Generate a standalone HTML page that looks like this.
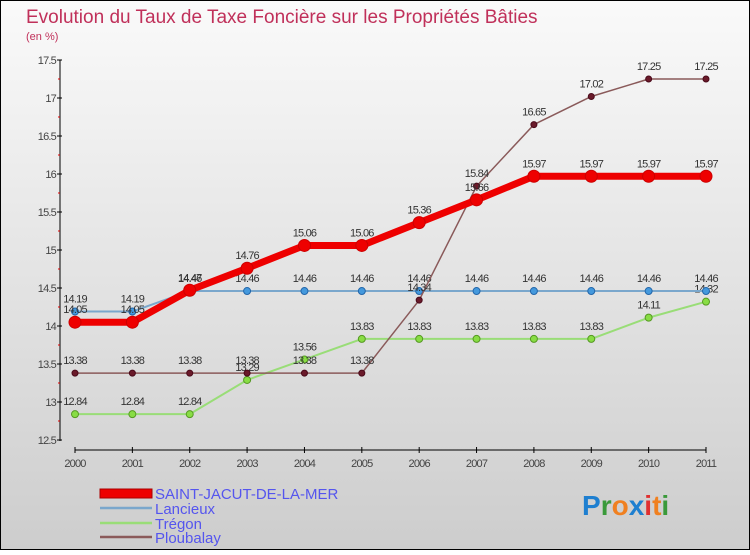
<!DOCTYPE html>
<html><head><meta charset="utf-8"><style>
body{margin:0}
#c{width:750px;height:550px;position:relative;font-family:"Liberation Sans",sans-serif}
</style></head><body>
<div id="c">
<svg id="s" width="750" height="550" xmlns="http://www.w3.org/2000/svg">
<defs><linearGradient id="bg" x1="0" y1="0" x2="0" y2="1"><stop offset="0" stop-color="#fafafa"/><stop offset="1" stop-color="#cdcdcd"/></linearGradient></defs>
<rect x="0.5" y="0.5" width="749" height="549" fill="url(#bg)" stroke="#000"/>
<text x="26" y="23" font-size="19" fill="#c0305a">Evolution du Taux de Taxe Foncière sur les Propriétés Bâties</text>
<text x="26" y="40" font-size="11" fill="#c0305a">(en %)</text>
<g id="axes"></g><g id="series"></g>
<g>
<rect x="100" y="489" width="52" height="9" fill="#e00" stroke="#a00"/>
<text x="155" y="499" font-size="15" fill="#5555ee">SAINT-JACUT-DE-LA-MER</text>
<line x1="100" y1="508" x2="152" y2="508" stroke="#7aa7cc" stroke-width="2.5"/>
<text x="155" y="514" font-size="15" fill="#5555ee">Lancieux</text>
<line x1="100" y1="523" x2="152" y2="523" stroke="#99dd77" stroke-width="2.5"/>
<text x="155" y="529" font-size="15" fill="#5555ee">Trégon</text>
<line x1="100" y1="537" x2="152" y2="537" stroke="#8a5a5a" stroke-width="2.5"/>
<text x="155" y="543" font-size="15" fill="#5555ee">Ploubalay</text>
</g>
<text x="582" y="515" font-size="28" font-weight="bold"><tspan fill="#1e7fd0">P</tspan><tspan fill="#3a9a3a">r</tspan><tspan fill="#f08020">o</tspan><tspan fill="#1e7fd0">x</tspan><tspan fill="#e03030">i</tspan><tspan fill="#f08020">t</tspan><tspan fill="#3a9a3a">i</tspan></text>
</svg></div>
<script>
const years=["2000","2001","2002","2003","2004","2005","2006","2007","2008","2009","2010","2011"];
const yTicks=[12.5,13,13.5,14,14.5,15,15.5,16,16.5,17,17.5];
const saint=[14.05,14.05,14.47,14.76,15.06,15.06,15.36,15.66,15.97,15.97,15.97,15.97];
const lancieux=[14.19,14.19,14.46,14.46,14.46,14.46,14.46,14.46,14.46,14.46,14.46,14.46];
const tregon=[12.84,12.84,12.84,13.29,13.56,13.83,13.83,13.83,13.83,13.83,14.11,14.32];
const ploubalay=[13.38,13.38,13.38,13.38,13.38,13.38,14.34,15.84,16.65,17.02,17.25,17.25];
const NS="http://www.w3.org/2000/svg";
const X=i=>75+i*(706-75)/11, Y=v=>440-(v-12.5)*76;
function mk(t,a,p){const e=document.createElementNS(NS,t);for(const k in a)e.setAttribute(k,a[k]);p.appendChild(e);return e;}
const ax=document.getElementById('axes');
mk('line',{x1:60,y1:60,x2:60,y2:441,stroke:'#000'},ax);
mk('line',{x1:75,y1:450,x2:706,y2:450,stroke:'#000'},ax);
yTicks.forEach(v=>{const y=Y(v);
 mk('line',{x1:57,y1:y,x2:62,y2:y,stroke:'#000'},ax);
 mk('line',{x1:58,y1:Y(v+0.25),x2:60,y2:Y(v+0.25),stroke:v<17.5?'#d00':'none'},ax);
 const t=mk('text',{x:56,y:y+4,'text-anchor':'end','font-size':11,fill:'#444','letter-spacing':'-0.8'},ax);t.textContent=String(v);
 });
years.forEach((yr,i)=>{const x=X(i);
 mk('line',{x1:x,y1:447,x2:x,y2:453,stroke:'#000'},ax);
 const t=mk('text',{x:x,y:467,'text-anchor':'middle','font-size':11,fill:'#444','letter-spacing':'-0.8'},ax);t.textContent=yr;
 });
const sg=document.getElementById('series');
function series(name,d,col,w,r,fill,stroke){
 const g=mk('g',{},sg);
 
 
 mk('polyline',{points:d.map((v,i)=>X(i)+','+Y(v)).join(' '),fill:'none',stroke:col,'stroke-width':w,'stroke-linejoin':'round'},g);
 d.forEach((v,i)=>{const c=mk('circle',{cx:X(i),cy:Y(v),r:r,fill:fill,stroke:stroke,'stroke-width':1},g);
  
  const t=mk('text',{x:X(i),y:Y(v)-9,'text-anchor':'middle','font-size':11,fill:'#333','letter-spacing':'-0.8'},g);t.textContent=v.toFixed(2).replace(/0$/,'').replace(/\.0?$/,'');});
}
series('series-tregon',tregon,'#99dd77',2,3.5,'#88dd44','#559922');
series('series-lancieux',lancieux,'#7aa7cc',2,3.5,'#4499dd','#2266aa');
series('series-ploubalay',ploubalay,'#8a5a5a',1.5,3,'#6a1a2a','#4a0a1a');
series('series-saint-jacut',saint,'#ee0000',7,6,'#ee0000','#cc0000');
</script>
</body></html>
